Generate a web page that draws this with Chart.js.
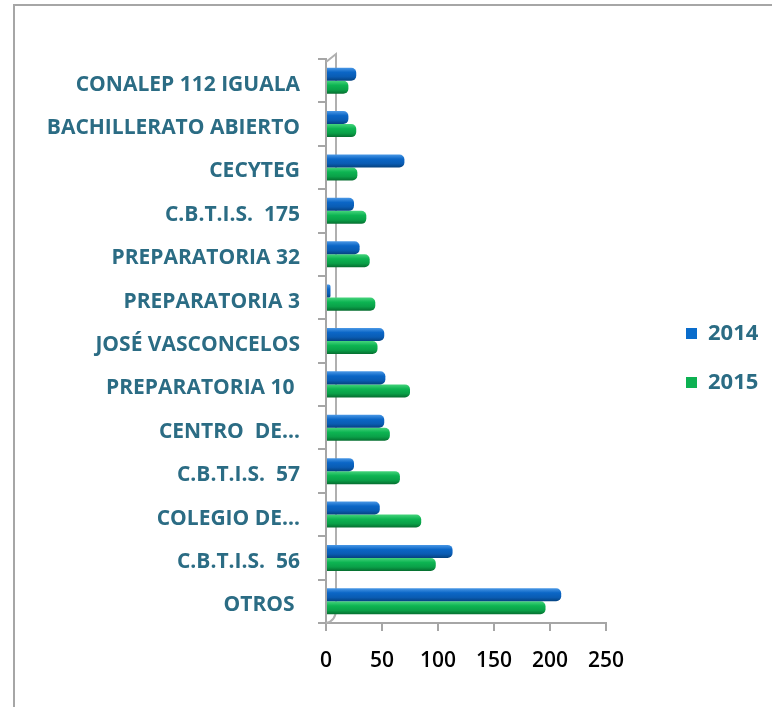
<!DOCTYPE html>
<html>
<head>
<meta charset="utf-8">
<script src="https://cdn.jsdelivr.net/npm/chart.js@4.4.0/dist/chart.umd.min.js"></script>
<style>
  html, body { margin: 0; padding: 0; background: #fff; overflow: hidden; }
  #frame { position: absolute; left: 13px; top: 4px; width: 800px; height: 760px;
           border-left: 2px solid #a6a6a6; border-top: 2px solid #a6a6a6; }
  #wrap { position: absolute; left: 0; top: 0; width: 772px; height: 707px; }
</style>
</head>
<body>
<div id="frame"></div>
<div id="wrap"><canvas id="chart"></canvas></div>
<script>
var schools = ['CONALEP 112 IGUALA', 'BACHILLERATO ABIERTO', 'CECYTEG', 'C.B.T.I.S.  175',
  'PREPARATORIA 32', 'PREPARATORIA 3', 'JOSÉ VASCONCELOS', 'PREPARATORIA 10 ',
  'CENTRO  DE…', 'C.B.T.I.S.  57', 'COLEGIO DE…', 'C.B.T.I.S.  56', 'OTROS '];
var values2014 = [27, 20, 70, 25, 30, 4, 52, 53, 52, 25, 48, 113, 210];
var values2015 = [20, 27, 28, 36, 39, 44, 46, 75, 57, 66, 85, 98, 196];
var xTicks = [0, 50, 100, 150, 200, 250];

var labelColor = '#2b6c84';
var axisColor = '#a6a6a6';
var catPct = 0.6;

var solid = ['#0a6ccb', '#0db152'];
var shades = [
  ['#4a98e6', '#0b66c6', '#0a5cb3', '#05427f'],
  ['#45d47c', '#0db452', '#0aa048', '#066e30']
];

// cylinder-like shading, one gradient per bar
function barFill(c) {
  var chart = c.chart;
  var y = chart.scales.y;
  if (!y || !chart.chartArea || c.dataIndex === undefined) return solid[c.datasetIndex];
  var slot = y.height / schools.length * catPct / 2;
  var mid = y.getPixelForValue(c.dataIndex) + (c.datasetIndex === 0 ? -slot / 2 : slot / 2);
  var g = chart.ctx.createLinearGradient(0, mid - slot / 2, 0, mid + slot / 2);
  var s = shades[c.datasetIndex];
  g.addColorStop(0, s[0]);
  g.addColorStop(0.35, s[1]);
  g.addColorStop(0.7, s[2]);
  g.addColorStop(1, s[3]);
  return g;
}

// legend sits far right, away from the plot
var legendSpot = {
  id: 'legendSpot',
  beforeLayout: function(chart) {
    var lg = chart.legend;
    if (lg && !lg._wide) {
      var fit = lg.fit;
      lg.fit = function() { fit.call(this); this.width = 166; };
      lg._wide = true;
    }
  },
  afterLayout: function(chart) {
    var lg = chart.legend;
    var dx = 659 - lg.left;
    lg.left += dx;
    lg.right += dx;
    lg.top -= 25;
    lg.bottom -= 25;
  }
};

// back wall edge of the 3D plot
var backWall = {
  id: 'backWall',
  beforeDatasetsDraw: function(chart) {
    var a = chart.chartArea, c = chart.ctx;
    c.save();
    c.strokeStyle = '#b0b0b0';
    c.lineWidth = 2;
    c.beginPath();
    c.moveTo(a.left, a.top + 3);
    c.lineTo(a.left + 10, a.top - 5);
    c.lineTo(a.left + 10, a.bottom - 14);
    c.quadraticCurveTo(a.left + 10, a.bottom - 2, a.left, a.bottom);
    c.stroke();
    c.restore();
  }
};

var ctx = document.getElementById('chart').getContext('2d');
var chart = new Chart(ctx, {
  type: 'bar',
  data: {
    labels: schools,
    datasets: [{
      label: '2014',
      data: values2014,
      backgroundColor: barFill,
      borderWidth: 0,
      borderRadius: 5,
      borderSkipped: 'left'
    }, {
      label: '2015',
      data: values2015,
      backgroundColor: barFill,
      borderWidth: 0,
      borderRadius: 5,
      borderSkipped: 'left'
    }]
  },
  options: {
    indexAxis: 'y',
    responsive: true,
    maintainAspectRatio: false,
    animation: false,
    categoryPercentage: catPct,
    barPercentage: 1.0,
    layout: { padding: { left: 16, top: 59, right: 0, bottom: 0 } },
    scales: {
      x: {
        min: 0,
        max: 250,
        afterBuildTicks: function(scale) {
          scale.ticks = xTicks.map(function(v) { return { value: v }; });
        },
        afterFit: function(scale) { scale.height = 84; },
        border: { color: axisColor, width: 2 },
        grid: { drawOnChartArea: false, color: axisColor, lineWidth: 2, tickLength: 8 },
        ticks: {
          color: '#000',
          padding: 17,
          maxRotation: 0,
          font: { family: 'Open Sans', size: 21, weight: '600' }
        }
      },
      y: {
        afterFit: function(scale) { scale.width = 310; },
        border: { color: axisColor, width: 2 },
        grid: { offset: true, drawOnChartArea: false, color: axisColor, lineWidth: 2, tickLength: 8 },
        ticks: {
          color: labelColor,
          padding: 18,
          labelOffset: 4,
          autoSkip: false,
          font: { family: 'Open Sans', size: 21, weight: 'bold' }
        }
      }
    },
    plugins: {
      legend: {
        position: 'right',
        labels: {
          boxWidth: 11,
          boxHeight: 11,
          padding: 27,
          color: labelColor,
          font: { family: 'Open Sans', size: 22, weight: 'bold' },
          generateLabels: function(chart) {
            var items = Chart.defaults.plugins.legend.labels.generateLabels(chart);
            items.forEach(function(it, i) {
              it.fillStyle = solid[i];
              it.strokeStyle = solid[i];
              it.lineWidth = 0;
            });
            return items;
          }
        }
      },
      tooltip: { enabled: false }
    }
  },
  plugins: [legendSpot, backWall]
});
</script>
</body>
</html>
